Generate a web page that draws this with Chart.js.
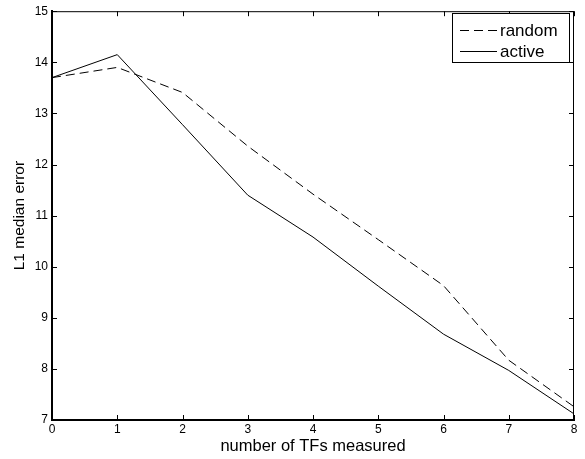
<!DOCTYPE html>
<html>
<head>
<meta charset="utf-8">
<script src="https://cdn.jsdelivr.net/npm/chart.js@4.4.1/dist/chart.umd.min.js"></script>
<style>
  html, body { margin: 0; padding: 0; background: #fff; }
  #wrap { width: 585px; height: 459px; }
</style>
</head>
<body>
<div id="wrap"><canvas id="c" width="585" height="459"></canvas></div>
<script>
const xValues = [0, 1, 2, 3, 4, 5, 6, 7, 8];
const randomValues = [13.7, 13.9, 13.41, 12.36, 11.42, 10.53, 9.63, 8.17, 7.26];
const activeValues = [13.7, 14.15, 12.78, 11.4, 10.58, 9.62, 8.68, 7.97, 7.12];
const xTitle = 'number of TFs measured';
const yTitle = 'L1 median error';
const FONT = '"Liberation Sans", Arial, Helvetica, sans-serif';

const toPoints = (vals) => vals.map((v, i) => ({ x: xValues[i], y: v }));

const frameTicks = {
  id: 'frameTicks',
  afterDraw(chart) {
    const { ctx, chartArea: a, scales } = chart;
    ctx.save();
    ctx.strokeStyle = '#000';
    // top & right frame
    ctx.lineWidth = 1;
    ctx.beginPath();
    ctx.moveTo(a.left, a.top + 0.5); ctx.lineTo(a.right, a.top + 0.5);
    ctx.moveTo(a.right - 0.5, a.top); ctx.lineTo(a.right - 0.5, a.bottom);
    ctx.stroke();
    const L = 5;
    ctx.beginPath();
    scales.x.ticks.forEach(t => {
      const px = Math.round(scales.x.getPixelForValue(t.value)) + 0.5;
      ctx.moveTo(px, a.bottom); ctx.lineTo(px, a.bottom - L);
      ctx.moveTo(px, a.top); ctx.lineTo(px, a.top + L);
    });
    scales.y.ticks.forEach(t => {
      const py = Math.round(scales.y.getPixelForValue(t.value)) + 0.5;
      ctx.moveTo(a.left, py); ctx.lineTo(a.left + L, py);
      ctx.moveTo(a.right, py); ctx.lineTo(a.right - L, py);
    });
    ctx.stroke();

    // legend
    const bx = 452.5, by = 13.5, bw = 117, bh = 49;
    ctx.fillStyle = '#fff';
    ctx.fillRect(bx, by, bw, bh);
    ctx.lineWidth = 1;
    ctx.strokeRect(bx, by, bw, bh);
    ctx.font = '17px ' + FONT;
    ctx.textBaseline = 'middle';
    ctx.textAlign = 'left';
    chart.data.datasets.forEach((ds, i) => {
      const y = 30 + i * 21;
      ctx.beginPath();
      ctx.setLineDash(ds.borderDash || []);
      ctx.strokeStyle = ds.borderColor;
      ctx.lineWidth = ds.borderWidth;
      ctx.moveTo(460, y + 0.5); ctx.lineTo(497, y + 0.5);
      ctx.stroke();
      ctx.setLineDash([]);
      ctx.fillStyle = '#000';
      ctx.fillText(ds.label, 500, y + 1);
    });
    ctx.restore();
  }
};

new Chart(document.getElementById('c'), {
  type: 'line',
  data: {
    datasets: [
      { label: 'random', data: toPoints(randomValues), borderColor: '#000', borderWidth: 1, borderDash: [9, 5], pointRadius: 0, tension: 0, fill: false },
      { label: 'active', data: toPoints(activeValues), borderColor: '#000', borderWidth: 1, pointRadius: 0, tension: 0, fill: false }
    ]
  },
  options: {
    responsive: false,
    animation: false,
    devicePixelRatio: 1,
    layout: { padding: { top: 7, right: 11, left: 0, bottom: 0 } },
    plugins: { legend: { display: false }, tooltip: { enabled: false } },
    scales: {
      x: {
        type: 'linear', min: 0, max: 8,
        ticks: { stepSize: 1, color: '#000', padding: 2, font: { family: FONT, size: 12 }, maxRotation: 0 },
        grid: { display: false, drawTicks: false },
        border: { display: true, color: '#000', width: 2 },
        title: { display: true, text: xTitle, color: '#000', font: { family: FONT, size: 16.5 }, padding: { top: 0, bottom: 3 } },
        afterFit(s) { s.height = 39; }
      },
      y: {
        type: 'linear', min: 7, max: 15,
        ticks: { stepSize: 1, color: '#000', padding: 4, font: { family: FONT, size: 12 } },
        grid: { display: false, drawTicks: false },
        border: { display: true, color: '#000', width: 2 },
        title: { display: true, text: yTitle, color: '#000', font: { family: FONT, size: 15.5 }, padding: { top: 10, bottom: 0 } },
        afterFit(s) { s.width = 52; }
      }
    }
  },
  plugins: [frameTicks]
});
</script>
</body>
</html>
